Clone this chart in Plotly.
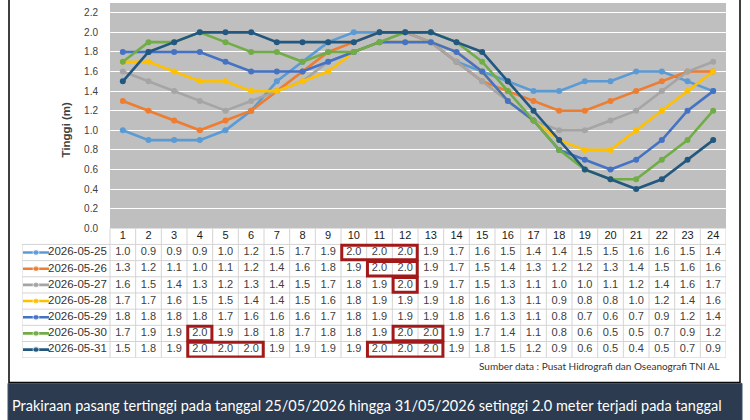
import plotly.graph_objects as go

# ---------------- data ----------------
hours = list(range(1, 25))
dates = ["2026-05-25", "2026-05-26", "2026-05-27", "2026-05-28",
         "2026-05-29", "2026-05-30", "2026-05-31"]
h_0525 = [1.0, 0.9, 0.9, 0.9, 1.0, 1.2, 1.5, 1.7, 1.9, 2.0, 2.0, 2.0, 1.9, 1.7, 1.6, 1.5, 1.4, 1.4, 1.5, 1.5, 1.6, 1.6, 1.5, 1.4]
h_0526 = [1.3, 1.2, 1.1, 1.0, 1.1, 1.2, 1.4, 1.6, 1.8, 1.9, 2.0, 2.0, 1.9, 1.7, 1.5, 1.4, 1.3, 1.2, 1.2, 1.3, 1.4, 1.5, 1.6, 1.6]
h_0527 = [1.6, 1.5, 1.4, 1.3, 1.2, 1.3, 1.4, 1.5, 1.7, 1.8, 1.9, 2.0, 1.9, 1.7, 1.5, 1.3, 1.1, 1.0, 1.0, 1.1, 1.2, 1.4, 1.6, 1.7]
h_0528 = [1.7, 1.7, 1.6, 1.5, 1.5, 1.4, 1.4, 1.5, 1.6, 1.8, 1.9, 1.9, 1.9, 1.8, 1.6, 1.3, 1.1, 0.9, 0.8, 0.8, 1.0, 1.2, 1.4, 1.6]
h_0529 = [1.8, 1.8, 1.8, 1.8, 1.7, 1.6, 1.6, 1.6, 1.7, 1.8, 1.9, 1.9, 1.9, 1.8, 1.6, 1.3, 1.1, 0.8, 0.7, 0.6, 0.7, 0.9, 1.2, 1.4]
h_0530 = [1.7, 1.9, 1.9, 2.0, 1.9, 1.8, 1.8, 1.7, 1.8, 1.8, 1.9, 2.0, 2.0, 1.9, 1.7, 1.4, 1.1, 0.8, 0.6, 0.5, 0.5, 0.7, 0.9, 1.2]
h_0531 = [1.5, 1.8, 1.9, 2.0, 2.0, 2.0, 1.9, 1.9, 1.9, 1.9, 2.0, 2.0, 2.0, 1.9, 1.8, 1.5, 1.2, 0.9, 0.6, 0.5, 0.4, 0.5, 0.7, 0.9]
series = [h_0525, h_0526, h_0527, h_0528, h_0529, h_0530, h_0531]
y_ticks = [0.0, 0.2, 0.4, 0.6, 0.8, 1.0, 1.2, 1.4, 1.6, 1.8, 2.0, 2.2]
highlight_value = 2.0
y_title = "Tinggi (m)"
source_text = "Sumber data : Pusat Hidrografi dan Oseanografi TNI AL"
banner_text = ("Prakiraan pasang tertinggi pada tanggal 25/05/2026 hingga 31/05/2026 "
               "setinggi 2.0 meter terjadi pada tanggal")

# ---------------- styles ----------------
colors = ["#5b9bd5", "#ed7d31", "#a5a5a5", "#ffc000", "#4472c4", "#70ad47", "#22587f"]
W, H = 750, 420
PL, PR, PT, PB = 110, 726, 3, 231      # plot area in px
TL, TB = 22, 362                        # table left / bottom in px
FONT = "Liberation Sans, Arial, sans-serif"
NARROW = "Lato, Open Sans, sans-serif"


def px(x):
    return x / W


def py(y):
    return 1 - y / H


unit = (PR - PL) / len(hours)


def ux(p):
    return 0.5 + (p - PL) / unit


fig = go.Figure()

# main lines
for name, vals, c in zip(dates, series, colors):
    fig.add_trace(go.Scatter(
        x=hours, y=vals, mode="lines+markers", name=name,
        line=dict(color=c, width=2.6), marker=dict(color=c, size=6),
        xaxis="x", yaxis="y", hoverinfo="skip", showlegend=False))

# table: header numbers
fig.add_trace(go.Scatter(
    x=hours, y=[0] * len(hours), mode="text", text=[str(h) for h in hours],
    textfont=dict(family=FONT, size=11, color="#1a1a1a"),
    xaxis="x2", yaxis="y2", hoverinfo="skip", showlegend=False))

# table: values + legend keys
key_x0, key_xm, key_x1, lab_x = ux(23), ux(36), ux(49), ux(48)
for r, (name, vals, c) in enumerate(zip(dates, series, colors), start=1):
    fig.add_trace(go.Scatter(
        x=hours, y=[r] * len(hours), mode="text",
        text=[f"{v:.1f}" for v in vals],
        textfont=dict(family=FONT, size=11, color="#404040"),
        xaxis="x2", yaxis="y2", hoverinfo="skip", showlegend=False))
    fig.add_trace(go.Scatter(
        x=[key_x0, key_xm, key_x1], y=[r, r, r], mode="lines+markers",
        line=dict(color=c, width=2.6), marker=dict(color=c, size=[0, 6, 0]),
        xaxis="x2", yaxis="y2", hoverinfo="skip", showlegend=False))
    fig.add_trace(go.Scatter(
        x=[lab_x], y=[r], mode="text", text=[name], textposition="middle right",
        textfont=dict(family=FONT, size=11.5, color="#333333"),
        xaxis="x2", yaxis="y2", hoverinfo="skip", showlegend=False))

shapes = []
# gray plot background
shapes.append(dict(type="rect", xref="x domain", yref="y domain", x0=0, x1=1, y0=0, y1=1,
                   fillcolor="#bfbfbf", line=dict(width=0), layer="below"))
# table grid
grid_c = "#d4d4d4"
nrows = len(dates)
xl = ux(TL)
for k in range(nrows + 2):
    y = k - 0.5
    shapes.append(dict(type="line", xref="x2", yref="y2",
                       x0=(0.5 if k == 0 else xl), x1=len(hours) + 0.5, y0=y, y1=y,
                       line=dict(color=grid_c, width=1), layer="below"))
for j in range(len(hours) + 1):
    x = j + 0.5
    shapes.append(dict(type="line", xref="x2", yref="y2", x0=x, x1=x, y0=-0.5, y1=nrows + 0.5,
                       line=dict(color=grid_c, width=1), layer="below"))
shapes.append(dict(type="line", xref="x2", yref="y2", x0=xl, x1=xl, y0=0.5, y1=nrows + 0.5,
                   line=dict(color=grid_c, width=1), layer="below"))
# red boxes around runs of the highest value
for r, vals in enumerate(series, start=1):
    i = 0
    while i < len(vals):
        if vals[i] >= highlight_value:
            j = i
            while j + 1 < len(vals) and vals[j + 1] >= highlight_value:
                j += 1
            shapes.append(dict(type="rect", xref="x2", yref="y2",
                               x0=hours[i] - 0.47, x1=hours[j] + 0.47, y0=r - 0.45, y1=r + 0.45,
                               line=dict(color="#a31818", width=3), layer="above"))
            i = j + 1
        else:
            i += 1
# frame and banner
shapes.append(dict(type="rect", xref="paper", yref="paper", x0=px(9), x1=px(740),
                   y0=py(387), y1=1.02, line=dict(color="#000000", width=1.5)))
shapes.append(dict(type="rect", xref="paper", yref="paper", x0=px(8), x1=px(742),
                   y0=-0.02, y1=py(388), fillcolor="#2c3b4f",
                   line=dict(color="#3d5068", width=1)))

annotations = [
    dict(text=y_title, x=px(66), y=py(131), xref="paper", yref="paper", textangle=-90,
         showarrow=False, font=dict(family=FONT, size=11.5, color="#404040", weight="bold"),
         xanchor="center", yanchor="middle"),
    dict(text=source_text, x=px(722), y=py(370), xref="paper", yref="paper",
         showarrow=False, font=dict(family=NARROW, size=10, color="#333333"),
         xanchor="right", yanchor="middle"),
    dict(text=banner_text, x=px(10), y=py(410), xref="paper", yref="paper",
         showarrow=False, font=dict(family=NARROW, size=14.5, color="#ffffff"),
         xanchor="left", yanchor="middle"),
]

fig.update_layout(
    width=W, height=H, margin=dict(l=0, r=0, t=0, b=0),
    paper_bgcolor="#ffffff", plot_bgcolor="rgba(0,0,0,0)",
    shapes=shapes, annotations=annotations,
    xaxis=dict(domain=[px(PL), px(PR)], range=[0.5, len(hours) + 0.5],
               showticklabels=False, showgrid=False, zeroline=False, showline=False, ticks=""),
    yaxis=dict(domain=[py(PB), py(PT)], range=[0, 2.3], tickvals=y_ticks,
               ticktext=[f"{v:.1f}" for v in y_ticks],
               tickfont=dict(family=FONT, size=10, color="#404040"),
               ticks="outside", ticklen=9, tickcolor="rgba(0,0,0,0)",
               showgrid=True, gridcolor="#ffffff", gridwidth=1,
               zeroline=False, showline=False),
    xaxis2=dict(domain=[px(TL), px(PR)], range=[ux(TL), len(hours) + 0.5], anchor="y2",
                showticklabels=False, showgrid=False, zeroline=False, showline=False, ticks=""),
    yaxis2=dict(domain=[py(TB), py(PB)], range=[nrows + 0.5, -0.5], anchor="x2",
                showticklabels=False, showgrid=False, zeroline=False, showline=False, ticks=""),
)

fig.write_html("out.html")
